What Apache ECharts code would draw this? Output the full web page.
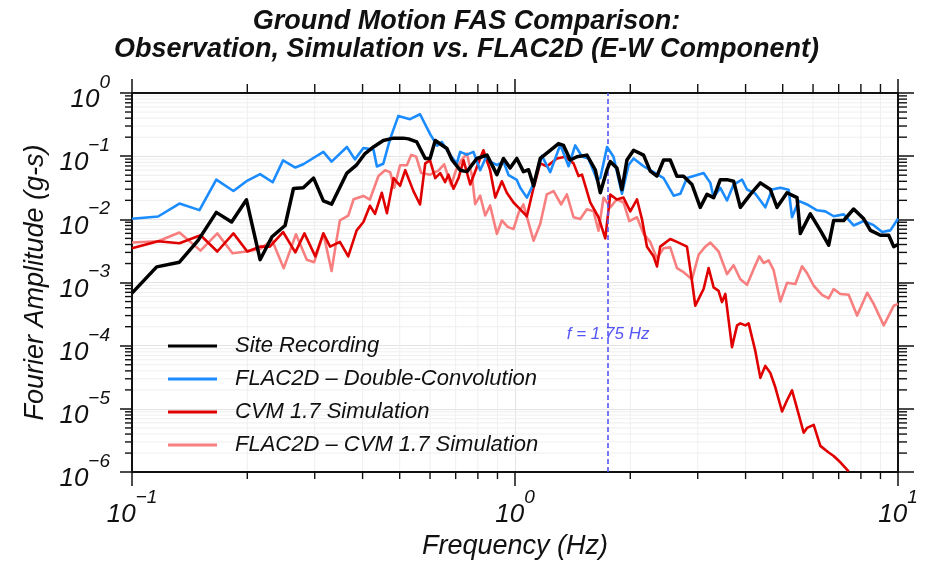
<!DOCTYPE html>
<html>
<head>
<meta charset="utf-8">
<script src="https://cdn.jsdelivr.net/npm/echarts@6/dist/echarts.min.js"></script>
<style>html,body{margin:0;padding:0;background:#fff}#c{width:933px;height:565px}</style>
</head>
<body>
<div id="c"></div>
<script>
// ---------- data (frequency in Hz, Fourier amplitude in g-s) ----------
const siteFreq = [0.1,0.116,0.133,0.149,0.166,0.182,0.199,0.216,0.232,0.251,
  0.264,0.280,0.298,0.316,0.332,0.364,0.386,0.406,0.427,0.453,
  0.482,0.511,0.527,0.554,0.583,0.600,0.619,0.664,0.685,0.719,
  0.749,0.795,0.845,0.897,0.933,0.971,1.011,1.052,1.085,1.118,
  1.164,1.236,1.299,1.339,1.394,1.451,1.541,1.620,1.670,1.739,
  1.773,1.845,1.902,1.960,2.040,2.166,2.255,2.348,2.443,2.543,
  2.648,2.755,2.898,3.046,3.171,3.301,3.436,3.577,3.722,3.876,
  4.116,4.371,4.642,4.832,5.132,5.450,5.559,5.903,6.269,6.592,
  6.792,7.214,7.659,8.137,8.472,8.995,9.456,9.745,10];
const siteAmp = [6.8e-4,1.77e-3,2.1e-3,4.7e-3,1.29e-2,9.1e-3,2.04e-2,2.3e-3,5.3e-3,8.0e-3,
  3.08e-2,3.16e-2,4.5e-2,1.96e-2,1.74e-2,5.4e-2,7.3e-2,0.110,0.140,0.177,
  0.193,0.193,0.188,0.168,0.092,0.092,0.177,0.132,0.087,0.060,
  0.057,0.092,0.104,0.051,0.092,0.065,0.092,0.057,0.061,0.034,
  0.092,0.124,0.158,0.148,0.087,0.098,0.104,0.061,0.0264,0.061,
  0.082,0.065,0.0297,0.087,0.124,0.104,0.058,0.0485,0.087,0.087,
  0.048,0.048,0.0356,0.0155,0.0249,0.0221,0.0425,0.0425,0.0402,0.0155,
  0.0249,0.0378,0.0297,0.0155,0.0264,0.0221,0.00596,0.0122,0.0067,0.0039,
  0.0096,0.0096,0.0146,0.0102,0.0067,0.0056,0.0056,0.0037,0.0040];

const dcFreq = [0.1,0.117,0.133,0.150,0.166,0.184,0.199,0.216,0.233,0.248,
  0.267,0.280,0.316,0.332,0.364,0.382,0.402,0.427,0.436,0.453,
  0.472,0.496,0.532,0.565,0.600,0.626,0.644,0.677,0.705,0.719,
  0.749,0.779,0.811,0.845,0.861,0.897,0.933,0.962,1.011,1.032,
  1.074,1.118,1.176,1.236,1.313,1.380,1.436,1.496,1.556,1.637,
  1.670,1.739,1.808,1.902,1.980,2.040,2.166,2.255,2.348,2.443,
  2.595,2.702,2.812,2.987,3.108,3.236,3.301,3.436,3.577,3.722,
  3.915,4.035,4.242,4.504,4.690,4.930,5.182,5.289,5.504,5.788,
  6.147,6.462,6.792,7.214,7.659,8.137,8.64,9.09,9.55,10];
const dcAmp = [0.0102,0.0111,0.0178,0.0140,0.0425,0.0281,0.0402,0.0521,0.0387,0.0859,
  0.0662,0.0745,0.117,0.082,0.140,0.089,0.135,0.127,0.0686,0.0759,
  0.188,0.434,0.385,0.461,0.225,0.147,0.168,0.104,0.0772,0.117,
  0.106,0.117,0.060,0.104,0.082,0.0726,0.082,0.0503,0.042,0.0316,
  0.0221,0.0365,0.101,0.056,0.152,0.0693,0.148,0.099,0.092,0.0425,
  0.045,0.140,0.098,0.0255,0.0726,0.092,0.0693,0.060,0.052,0.045,
  0.0237,0.0255,0.045,0.0503,0.054,0.0378,0.0221,0.0316,0.0199,0.0356,
  0.0425,0.0297,0.0255,0.0155,0.0297,0.0316,0.0294,0.0108,0.0196,0.0172,
  0.0139,0.0134,0.0112,0.0120,0.0080,0.0094,0.0081,0.0063,0.0067,0.0102];

const cvmFreq = [0.1,0.117,0.133,0.151,0.167,0.184,0.200,0.216,0.229,0.248,
  0.267,0.282,0.301,0.316,0.329,0.349,0.367,0.386,0.402,0.418,
  0.431,0.449,0.463,0.482,0.501,0.517,0.543,0.565,0.583,0.600,
  0.619,0.638,0.657,0.670,0.691,0.712,0.734,0.764,0.811,0.827,
  0.861,0.888,0.924,0.952,0.991,1.032,1.074,1.118,1.164,1.211,
  1.287,1.352,1.422,1.465,1.496,1.572,1.652,1.721,1.773,1.845,
  1.920,2.000,2.082,2.145,2.211,2.300,2.348,2.394,2.543,2.648,
  2.812,2.898,2.956,3.046,3.108,3.203,3.301,3.401,3.471,3.541,
  3.686,3.800,3.876,3.995,4.074,4.242,4.371,4.504,4.642,4.783,
  4.980,5.132,5.289,5.450,5.672,5.788,6.024,6.269,6.592,6.792,
  7.071,7.432];
const cvmAmp = [3.5e-3,4.5e-3,4.2e-3,5.6e-3,3.1e-3,6.0e-3,3.1e-3,3.7e-3,3.7e-3,6.3e-3,
  3.0e-3,6.0e-3,2.6e-3,6.0e-3,3.7e-3,4.4e-3,2.6e-3,6.7e-3,9.1e-3,0.0164,
  0.0122,0.0264,0.0125,0.045,0.034,0.060,0.028,0.0172,0.077,0.086,
  0.045,0.054,0.039,0.051,0.0305,0.045,0.086,0.0356,0.092,0.124,
  0.060,0.0221,0.040,0.0264,0.0185,0.0144,0.0112,0.0316,0.077,0.069,
  0.092,0.098,0.077,0.0485,0.051,0.0185,0.0108,0.0050,0.0246,0.0206,
  0.0221,0.0134,0.0208,0.0101,0.0037,0.0026,0.0018,0.0037,0.0049,0.0044,
  0.0037,0.00106,0.00043,0.00062,0.00079,0.0017,0.00084,0.00074,0.00049,0.00066,
  9.5e-5,2.1e-4,2.26e-4,2.1e-4,2.26e-4,8.2e-5,3.1e-5,4.8e-5,3.7e-5,2.2e-5,
  9.1e-6,1.37e-5,1.96e-5,1.02e-5,4.2e-6,5.0e-6,5.6e-6,2.6e-6,2.04e-6,1.8e-6,
  1.43e-6,1.03e-6];

const flacCvmFreq = [0.1,0.117,0.133,0.151,0.167,0.183,0.199,0.216,0.232,0.249,
  0.268,0.286,0.299,0.316,0.332,0.342,0.349,0.367,0.379,0.402,
  0.418,0.440,0.458,0.472,0.484,0.501,0.522,0.536,0.552,0.569,
  0.600,0.631,0.653,0.681,0.702,0.724,0.749,0.772,0.787,0.811,
  0.836,0.861,0.897,0.924,0.957,0.991,1.023,1.052,1.118,1.164,
  1.211,1.261,1.320,1.366,1.422,1.480,1.541,1.604,1.652,1.703,
  1.773,1.845,1.920,1.988,2.082,2.166,2.255,2.348,2.443,2.543,
  2.648,2.755,2.898,3.016,3.139,3.236,3.401,3.577,3.722,3.876,
  4.035,4.198,4.345,4.459,4.595,4.735,4.930,5.132,5.395,5.617,
  5.788,6.024,6.333,6.592,6.792,7.071,7.432,7.82,8.31,8.64,
  9.18,9.75,10];
const flacCvmAmp = [4.3e-3,4.5e-3,6.2e-3,3.2e-3,6.0e-3,2.9e-3,3.1e-3,3.4e-3,4.7e-3,1.69e-3,
  5.8e-3,2.3e-3,2.1e-3,6.0e-3,1.52e-3,4.7e-3,9.6e-3,0.0115,0.0208,0.0235,
  0.0206,0.0485,0.060,0.056,0.0316,0.072,0.072,0.105,0.098,0.054,
  0.051,0.059,0.0745,0.0345,0.061,0.086,0.110,0.0485,0.0174,0.0237,
  0.0115,0.0166,5.9e-3,9.6e-3,7.6e-3,7.0e-3,0.0129,0.0172,4.6e-3,8.5e-3,
  0.0249,0.028,0.0172,0.0249,0.0108,0.0101,0.0144,0.0134,6.6e-3,0.0221,
  0.0155,0.0208,0.0185,9.4e-3,0.0108,5.9e-3,4.4e-3,2.4e-3,3.5e-3,3.6e-3,
  1.69e-3,1.46e-3,1.13e-3,2.75e-3,3.7e-3,4.3e-3,3.1e-3,1.36e-3,1.88e-3,1.13e-3,
  9.2e-4,1.63e-3,2.6e-3,2.04e-3,2.24e-3,1.57e-3,5.0e-4,9.9e-4,9.5e-4,1.81e-3,
  1.41e-3,8.9e-4,6.4e-4,5.6e-4,7.9e-4,6.6e-4,6.4e-4,3.0e-4,6.9e-4,4.6e-4,
  2.1e-4,4.3e-4,4.6e-4];

const seriesNames = ['Site Recording', 'FLAC2D \u2013 Double-Convolution', 'CVM 1.7 Simulation', 'FLAC2D \u2013 CVM 1.7 Simulation'];
const markerFreq = 1.75;
const markerLabel = 'f = 1.75 Hz';
const markerLabelAmp = 1.5e-4;
const xRange = [0.1, 10];
const yRange = [1e-6, 1];
const titleLines = ['Ground Motion FAS Comparison:', 'Observation, Simulation vs. FLAC2D (E-W Component)'];
const xName = 'Frequency (Hz)';
const yName = 'Fourier Amplitude (g-s)';

// ---------- helpers ----------
const FONT = '"Liberation Sans", Arial, sans-serif';
function zip(a, b) { return a.map((v, i) => [v, b[i]]); }
function minorValues(lo, hi) {
  const out = [];
  for (let d = lo; d < hi * 0.999; d *= 10) {
    for (let k = 2; k <= 9; k++) out.push(d * k);
  }
  return out;
}
const xMinor = minorValues(xRange[0], xRange[1]);
const yMinor = minorValues(yRange[0], yRange[1]);

function powLabel(v) {
  const e = Math.round(Math.log10(v));
  const s = e < 0 ? '\u2212' + (-e) : String(e);
  return '{b|10}{s|' + s + '}';
}
const labelRich = {
  b: { fontSize: 26, fontStyle: 'italic', fontFamily: FONT, color: '#111', lineHeight: 40, verticalAlign: 'bottom' },
  s: { fontSize: 19, fontStyle: 'italic', fontFamily: FONT, color: '#111', lineHeight: 16, verticalAlign: 'top' }
};

const chart = echarts.init(document.getElementById('c'), null, { renderer: 'canvas' });

const lineSeries = (name, f, a, color, width, z) => ({
  name, type: 'line', data: zip(f, a), symbol: 'none', z,
  xAxisIndex: 0, yAxisIndex: 0,
  lineStyle: { color, width, join: 'round' }, itemStyle: { color },
  emphasis: { disabled: true }, animation: false
});

const option = {
  animation: false,
  backgroundColor: '#ffffff',
  title: {
    text: titleLines.join('\n'),
    left: 'center', top: 3,
    textStyle: { fontFamily: FONT, fontSize: 27, fontWeight: 'bold', fontStyle: 'italic', color: '#111', lineHeight: 28 }
  },
  grid: { left: 132, right: 35, top: 93, bottom: 85, containLabel: false },
  legend: {
    data: seriesNames, orient: 'vertical', left: 163, top: 330,
    icon: 'rect', itemWidth: 49, itemHeight: 3, itemGap: 11,
    textStyle: { fontFamily: FONT, fontSize: 22, fontStyle: 'italic', color: '#111', lineHeight: 22, padding: [0, 0, 0, 13] },
    selectedMode: false
  },
  xAxis: [{
    type: 'log', logBase: 10, min: xRange[0], max: xRange[1], interval: 1,
    position: 'bottom',
    name: xName, nameLocation: 'middle', nameGap: 52,
    nameTextStyle: { fontFamily: FONT, fontSize: 27, fontStyle: 'italic', color: '#111' },
    axisLine: { lineStyle: { color: '#111', width: 2 } },
    axisTick: { length: 14, lineStyle: { color: '#111', width: 1.5 } },
    axisLabel: { formatter: powLabel, rich: labelRich, margin: 16 },
    splitLine: { show: true, lineStyle: { color: '#e3e3e3', width: 1 } },
    minorTick: { show: false }, minorSplitLine: { show: false }
  }, {
    type: 'log', logBase: 10, min: xRange[0], max: xRange[1], interval: 1,
    position: 'top',
    axisLine: { lineStyle: { color: '#111', width: 2 } },
    axisTick: { length: 14, lineStyle: { color: '#111', width: 1.5 } },
    axisLabel: { show: false }, splitLine: { show: false }
  }],
  yAxis: [{
    type: 'log', logBase: 10, min: yRange[0], max: yRange[1], interval: 1,
    position: 'left',
    name: yName, nameLocation: 'middle', nameGap: 78, nameRotate: 90,
    nameTextStyle: { fontFamily: FONT, fontSize: 27, fontStyle: 'italic', color: '#111' },
    axisLine: { lineStyle: { color: '#111', width: 2 } },
    axisTick: { length: 12, lineStyle: { color: '#111', width: 1.5 } },
    axisLabel: { formatter: powLabel, rich: labelRich, margin: 22 },
    splitLine: { show: true, lineStyle: { color: '#e3e3e3', width: 1 } }
  }, {
    type: 'log', logBase: 10, min: yRange[0], max: yRange[1], interval: 1,
    position: 'right',
    axisLine: { lineStyle: { color: '#111', width: 2 } },
    axisTick: { length: 16, lineStyle: { color: '#111', width: 1.5 } },
    axisLabel: { show: false }, splitLine: { show: false }
  }],
  series: [
    {
      type: 'custom', name: 'minor', z: 0, silent: true, clip: false,
      xAxisIndex: 0, yAxisIndex: 0,
      data: [[1, 0.001]],
      renderItem: function (params, api) {
        const bl = api.coord([xRange[0], yRange[0]]);
        const tr = api.coord([xRange[1], yRange[1]]);
        const left = bl[0], bottom = bl[1], right = tr[0], top = tr[1];
        const ch = [];
        const grid = { stroke: '#efefef', lineWidth: 1 };
        const tick = { stroke: '#111', lineWidth: 1.4 };
        const L = (x1, y1, x2, y2, st) => ({ type: 'line', shape: { x1, y1, x2, y2 }, style: st, silent: true });
        xMinor.forEach(v => {
          const px = api.coord([v, yRange[0]])[0];
          ch.push(L(px, top, px, bottom, grid));
          ch.push(L(px, bottom, px, bottom + 7, tick));
          ch.push(L(px, top, px, top - 9, tick));
        });
        yMinor.forEach(v => {
          const py = api.coord([xRange[0], v])[1];
          ch.push(L(left, py, right, py, grid));
          ch.push(L(left, py, left - 7, py, tick));
          ch.push(L(right, py, right + 9, py, tick));
        });
        return { type: 'group', children: ch };
      }
    },
    lineSeries(seriesNames[3], flacCvmFreq, flacCvmAmp, '#f77f7f', 2.6, 3),
    Object.assign(lineSeries(seriesNames[2], cvmFreq, cvmAmp, '#e00000', 2.6, 4), {
      markLine: {
        silent: true, symbol: 'none', animation: false,
        lineStyle: { color: '#5656f5', width: 1.6, type: [5, 3] },
        label: { show: false },
        data: [{ xAxis: markerFreq }]
      },
      markPoint: {
        silent: true, symbol: 'circle', symbolSize: 0, animation: false,
        label: { show: true, position: 'inside', formatter: markerLabel, fontFamily: FONT, fontSize: 17, fontStyle: 'italic', color: '#5656f5' },
        data: [{ coord: [markerFreq, markerLabelAmp] }]
      }
    }),
    lineSeries(seriesNames[1], dcFreq, dcAmp, '#1a8cff', 2.6, 5),
    lineSeries(seriesNames[0], siteFreq, siteAmp, '#000000', 3.5, 6)
  ]
};
chart.setOption(option);
</script>
</body>
</html>
